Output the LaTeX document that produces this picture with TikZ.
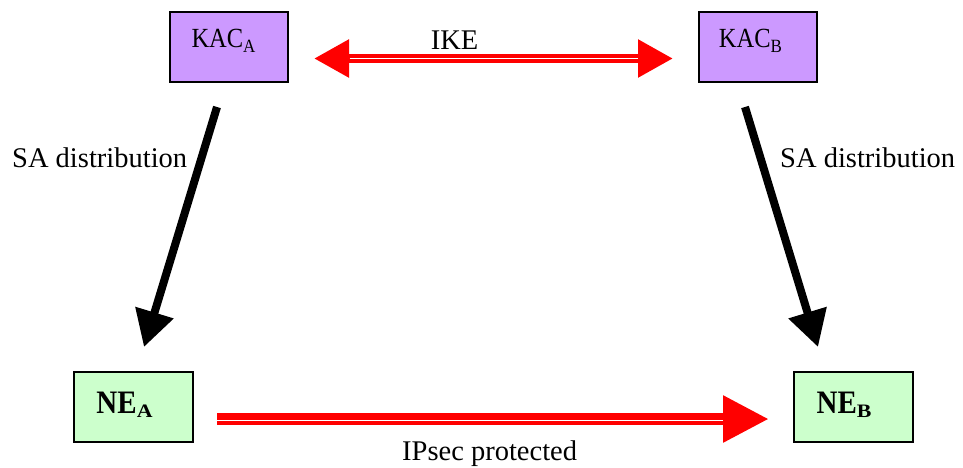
\documentclass[tikz,border=0pt]{standalone}
\usepackage{fontspec}
\setmainfont{Liberation Serif}
\usetikzlibrary{arrows.meta}
\definecolor{kacfill}{HTML}{CC99FF}
\definecolor{nefill}{HTML}{CCFFCC}
\definecolor{arrred}{HTML}{FF0000}
\newcommand\mysubk[1]{\raisebox{-5pt}{\scalebox{1}[1.1]{\fontsize{17}{18}\selectfont #1}}}
\newcommand\mysubn[1]{\raisebox{-4.5pt}{\scalebox{1.15}[1]{\fontsize{19}{20}\selectfont\bfseries #1}}}
\newcommand\mystretch[1]{\scalebox{1}[1.13]{#1}}
\begin{document}
\begin{tikzpicture}[x=1pt,y=-1pt,
  kacbox/.style={draw=black, line width=2pt, fill=kacfill, minimum width=118pt, minimum height=70pt, inner sep=0pt, text height=18pt, text depth=18pt, font=\fontsize{24.5}{28}\selectfont},
  nebox/.style={draw=black, line width=2pt, fill=nefill, minimum width=119pt, minimum height=70pt, inner sep=0pt, text height=24pt, text depth=12pt, font=\fontsize{29}{34}\selectfont\bfseries},
  lbl/.style={font=\fontsize{28.5}{32}\selectfont, inner sep=0pt},
  saarrow/.style={line width=8pt, -{Triangle[length=36pt,width=38pt]}},
  redline/.style={draw=arrred},
  gapline/.style={draw=white, line width=1.3pt},
  ]
\useasboundingbox (0,0) rectangle (963,467);
% boxes
\node[kacbox] (kacA) at (229,47) {\mystretch{KAC}\mysubk{A}\hspace*{11pt}};
\node[kacbox] (kacB) at (757.5,47) {\mystretch{KAC}\mysubk{B}\hspace*{14pt}};
\node[nebox] (neA) at (133.5,407) {\mystretch{NE}\mysubn{A}\hspace*{18pt}};
\node[nebox] (neB) at (853,407) {\mystretch{NE}\mysubn{B}\hspace*{18pt}};
% connector end points
\coordinate (ikeL) at (314,58.5);
\coordinate (ikeR) at (673,58.5);
\coordinate (ipA) at (217,419);
\coordinate (ipB) at (769,419);
\coordinate (saAs) at (217,107);
\coordinate (saAe) at (144,347);
\coordinate (saBs) at (745,107);
\coordinate (saBe) at (818,347);
% IKE double arrow
\draw[redline, line width=8.4pt, {Triangle[length=35pt,width=36pt]}-{Triangle[length=35pt,width=36pt]}] (ikeL) -- (ikeR);
\draw[gapline] ([xshift=35.5pt]ikeL) -- ([xshift=-35.5pt]ikeR);
% IPsec arrow
\draw[redline, line width=11.5pt, -{Triangle[length=46pt,width=44pt]}] (ipA) -- (ipB);
\draw[gapline] ([yshift=-1.8pt]ipA) -- ([xshift=-46.5pt,yshift=-1.8pt]ipB);
% SA distribution arrows
\draw[saarrow] (saAs) -- (saAe);
\draw[saarrow] (saBs) -- (saBe);
% labels
\node[lbl, anchor=base] (ike) at (454.5,49) {IKE};
\node[lbl, anchor=base west] (saA) at (12,167) {SA distribution};
\node[lbl, anchor=base west] (saB) at (780,167) {SA distribution};
\node[lbl, anchor=base west] (ipsec) at (402,460) {IPsec protected};
\end{tikzpicture}
\end{document}
